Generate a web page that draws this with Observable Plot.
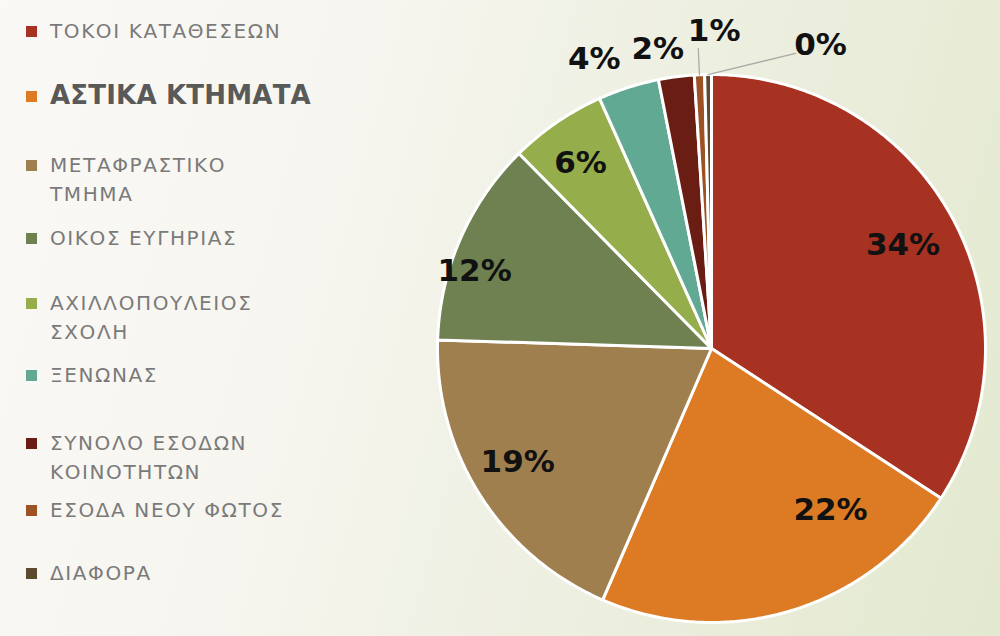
<!DOCTYPE html>
<html><head><meta charset="utf-8">
<script src="https://cdn.jsdelivr.net/npm/d3@7"></script>
<script src="https://cdn.jsdelivr.net/npm/@observablehq/plot@0.6"></script>
<style>
html,body{margin:0;padding:0;}
body{width:1000px;height:636px;overflow:hidden;
 background:linear-gradient(105deg,#faf9f6 0%,#f6f5ef 33%,#edefe0 62%,#e3e9cf 100%);}
#wrap{position:relative;width:1000px;height:636px;}
#chart{position:absolute;left:0;top:0;}
.item{position:absolute;left:26px;font-family:"DejaVu Sans";font-weight:normal;color:#7a7a7a;font-size:20px;letter-spacing:1.6px;line-height:29px;}
.item .sw{position:absolute;left:0;top:9px;width:11px;height:11px;}
.item .tx{position:absolute;left:24px;top:0;white-space:nowrap;}
.item.big .tx{font-weight:bold;font-size:26px;color:#595959;letter-spacing:0.2px;top:-1px;}
</style></head>
<body><div id="wrap"><div id="chart"></div><div id="legend"></div></div>
<script>
const categories = ["ΤΟΚΟΙ ΚΑΤΑΘΕΣΕΩΝ","ΑΣΤΙΚΑ ΚΤΗΜΑΤΑ","ΜΕΤΑΦΡΑΣΤΙΚΟ ΤΜΗΜΑ","ΟΙΚΟΣ ΕΥΓΗΡΙΑΣ","ΑΧΙΛΛΟΠΟΥΛΕΙΟΣ ΣΧΟΛΗ","ΞΕΝΩΝΑΣ","ΣΥΝΟΛΟ ΕΣΟΔΩΝ ΚΟΙΝΟΤΗΤΩΝ","ΕΣΟΔΑ ΝΕΟΥ ΦΩΤΟΣ","ΔΙΑΦΟΡΑ"];
const legendLines = [["ΤΟΚΟΙ ΚΑΤΑΘΕΣΕΩΝ"],["ΑΣΤΙΚΑ ΚΤΗΜΑΤΑ"],["ΜΕΤΑΦΡΑΣΤΙΚΟ","ΤΜΗΜΑ"],["ΟΙΚΟΣ ΕΥΓΗΡΙΑΣ"],["ΑΧΙΛΛΟΠΟΥΛΕΙΟΣ","ΣΧΟΛΗ"],["ΞΕΝΩΝΑΣ"],["ΣΥΝΟΛΟ ΕΣΟΔΩΝ","ΚΟΙΝΟΤΗΤΩΝ"],["ΕΣΟΔΑ ΝΕΟΥ ΦΩΤΟΣ"],["ΔΙΑΦΟΡΑ"]];
const values = [34.2,22.3,19.0,12.1,5.7,3.6,2.1,0.6,0.4];
const labels = ["34%","22%","19%","12%","6%","4%","2%","1%","0%"];
const colors = ["#a83222","#dc7b24","#a07f4f","#6f8151","#95ad4b","#62a993","#6a1d12","#9d5226","#5e4b2f"];

// layout config
const CX = 711, CY = 348, R = 274;
const labelNudgeDeg = [0,-19.6,2,-5.4,-0.8,-4.4,-2.8,3,20.5];
const labelRadius = [0.795,0.733,0.82,0.91,0.83,1.14,1.11,1.16,1.175];
const legendTop = [17,82,151,224,289,361,429,496,559];

const total = d3.sum(values);
const pts = [];
const mids = [];
let acc = 0;
values.forEach((v,i)=>{
  const a0 = acc/total*2*Math.PI, a1 = (acc+v)/total*2*Math.PI;
  acc += v;
  mids.push((a0+a1)/2);
  pts.push({cat:categories[i], x:0, y:0});
  const n = Math.max(2, Math.ceil((a1-a0)/(Math.PI/360)));
  for(let k=0;k<=n;k++){const a=a0+(a1-a0)*k/n; pts.push({cat:categories[i], x:Math.sin(a), y:Math.cos(a)});}
  pts.push({cat:categories[i], x:0, y:0});
});
const labelData = labels.map((t,i)=>{
  const a = mids[i] + labelNudgeDeg[i]*Math.PI/180;
  return {t, x:labelRadius[i]*Math.sin(a), y:labelRadius[i]*Math.cos(a)};
});
// leader lines for the two smallest slices
const leaders = [];
{
  const a = mids[7];
  leaders.push({k:1,x:Math.sin(a),y:Math.cos(a)},{k:1,x:1.095*Math.sin(a),y:1.095*Math.cos(a)});
  const b = mids[8], e = 15.9*Math.PI/180;
  leaders.push({k:2,x:Math.sin(b),y:Math.cos(b)},{k:2,x:1.12*Math.sin(e),y:1.12*Math.cos(e)});
}

const chart = Plot.plot({
  width:1000, height:636, margin:0,
  x:{domain:[-CX/R,(1000-CX)/R], axis:null},
  y:{domain:[-(636-CY)/R, CY/R], axis:null},
  color:{domain:categories, range:colors},
  style:{background:"transparent", overflow:"visible"},
  marks:[
    Plot.line(pts,{x:"x",y:"y",z:"cat",fill:"cat",stroke:"white",strokeWidth:3,strokeLinejoin:"round"}),
    Plot.line(leaders,{x:"x",y:"y",z:"k",stroke:"#a9aca6",strokeWidth:1.3}),
    Plot.text(labelData,{x:"x",y:"y",text:"t",fontSize:31,fontWeight:"bold",fill:"#111",fontFamily:"DejaVu Sans"})
  ]
});
document.getElementById("chart").appendChild(chart);

const leg = document.getElementById("legend");
categories.forEach((c,i)=>{
  const d = document.createElement("div");
  d.className = "item" + (i===1?" big":"");
  d.style.top = legendTop[i]+"px";
  const sw = document.createElement("div"); sw.className="sw"; sw.style.background=colors[i];
  const tx = document.createElement("div"); tx.className="tx"; tx.innerHTML = legendLines[i].join("<br>");
  d.appendChild(sw); d.appendChild(tx); leg.appendChild(d);
});
</script></body></html>
